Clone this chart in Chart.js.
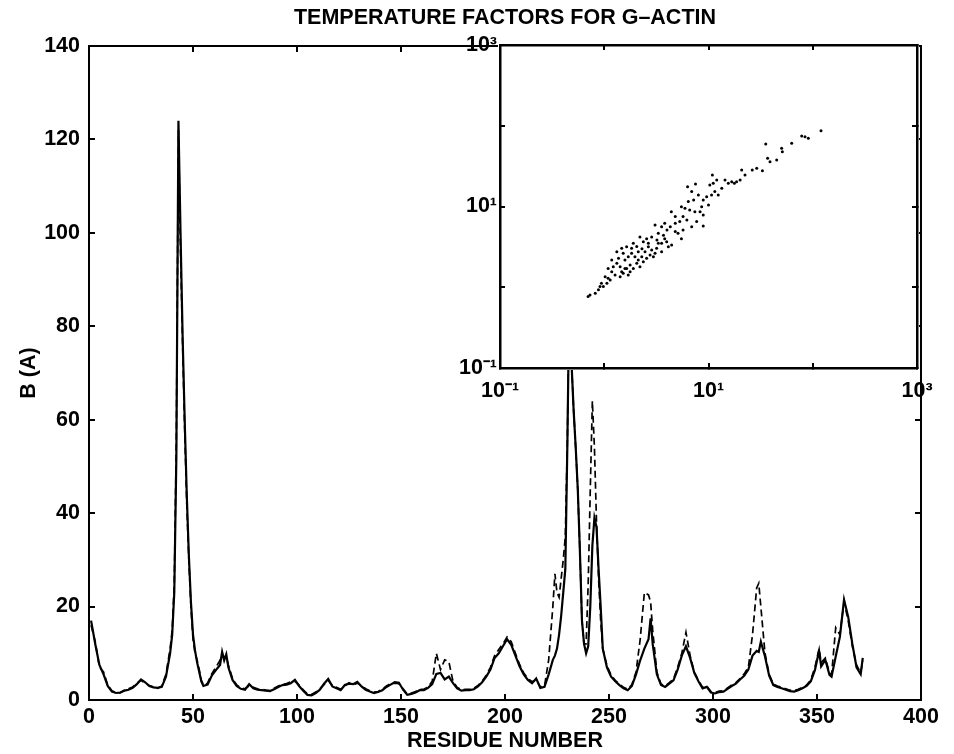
<!DOCTYPE html>
<html>
<head>
<meta charset="utf-8">
<script src="https://cdn.jsdelivr.net/npm/chart.js@4"></script>
<style>
  html, body { margin: 0; padding: 0; background: #fff; }
  #wrap { position: relative; width: 954px; height: 754px; }
  #mainChart { position: absolute; left: 0; top: 0; }
  #insetChart { position: absolute; left: 420px; top: 23px; }
</style>
</head>
<body>
<div id="wrap">
  <canvas id="mainChart" width="954" height="754"></canvas>
  <canvas id="insetChart" width="532" height="407"></canvas>
</div>
<script>
// residue numbers (x) with the two B-factor traces
const residues = [
  1, 3, 5, 7, 9, 11, 13, 15, 17, 19,
  21, 23, 25, 27, 29, 31, 33, 35, 37, 39,
  40, 41, 42, 43, 44, 45, 46, 47, 48, 49,
  50, 51, 52, 53, 54, 55, 57, 59, 61, 63,
  64, 65, 66, 67, 69, 71, 73, 75, 77, 79,
  81, 83, 85, 87, 89, 91, 93, 95, 97, 99,
  101, 103, 105, 107, 109, 111, 113, 115, 117, 119,
  121, 123, 125, 127, 129, 131, 133, 135, 137, 139,
  141, 143, 145, 147, 149, 151, 153, 155, 157, 159,
  161, 163, 165, 167, 169, 171, 173, 175, 177, 179,
  181, 183, 185, 187, 189, 191, 193, 195, 197, 199,
  201, 203, 205, 207, 209, 211, 213, 215, 217, 219,
  221, 223, 224, 225, 226, 227, 228, 229, 230, 231,
  232, 233, 234, 235, 236, 237, 238, 239, 240, 241,
  242, 243, 244, 245, 246, 247, 249, 251, 253, 255,
  257, 259, 261, 263, 265, 267, 269, 270, 271, 273,
  275, 277, 279, 281, 283, 285, 287, 289, 291, 293,
  295, 297, 299, 301, 303, 305, 307, 309, 311, 313,
  315, 317, 319, 321, 322, 323, 325, 327, 329, 331,
  333, 335, 337, 339, 341, 343, 345, 347, 349, 351,
  352, 354, 356, 357, 359, 361, 363, 365, 367, 369,
  371, 372
];
const solidB = [
  17, 12, 7.5, 5.5, 3, 1.8, 1.5, 1.6, 2, 2.2,
  2.6, 3.4, 4.4, 3.8, 3, 2.7, 2.6, 2.8, 5, 10,
  14, 23, 52, 124, 100, 78, 60, 44, 31, 21,
  14, 10.5, 8, 6, 4, 3, 3.3, 5.2, 6.4, 7.5,
  10.3, 8.5, 9.8, 7, 4.3, 3, 2.4, 2.2, 3.4, 2.5,
  2.2, 2.1, 2, 1.9, 2.3, 2.8, 3.2, 3.3, 3.6, 4.3,
  3, 2, 1.1, 1, 1.5, 2.2, 3.5, 4.5, 2.9, 2.5,
  2.1, 3.2, 3.5, 3.4, 3.9, 2.9, 2.2, 1.8, 1.5, 1.7,
  2.1, 2.8, 3.3, 3.8, 3.7, 2.2, 1.1, 1.3, 1.6, 2.1,
  2.1, 2.6, 3.4, 5.6, 5.8, 4.4, 5, 3.6, 2.5, 2,
  2.1, 2.1, 2.3, 2.9, 3.8, 5, 6.5, 9, 10, 11.5,
  13, 11.8, 9.5, 7.2, 5.5, 4.3, 3.6, 4.6, 2.6, 2.8,
  5.5, 8.6, 9.5, 11, 14, 18, 23, 28, 55, 90,
  72, 62, 54, 45, 32, 17, 12, 10, 11.5, 20,
  33, 39, 37, 28, 20, 11, 7, 5, 4, 3.2,
  2.5, 2.1, 3, 5.5, 8.5, 11, 13, 17.5, 12, 5.5,
  3.2, 2.8, 3.5, 4.2, 6.5, 9.5, 11.5, 9, 5.8, 4,
  2.5, 2.8, 1.6, 1.4, 1.7, 1.8, 2.4, 3, 3.5, 4.4,
  5.2, 6.5, 9.5, 10.5, 10.3, 12.5, 9.3, 5.2, 3.2, 2.8,
  2.5, 2.2, 1.9, 1.8, 2.1, 2.5, 3, 4, 6.4, 10.5,
  7.2, 8.6, 5.4, 5, 9.3, 13.5, 21.5, 17.8, 12, 7,
  5.5, 9
];
const dashedB = [
  16, 12.5, 7, 6, 3.2, 2, 1.6, 1.5, 2.1, 2.4,
  2.8, 3.6, 4.2, 3.6, 3.1, 2.8, 2.5, 3, 5.5, 11,
  15, 25, 56, 122, 96, 76, 58, 42, 30, 20,
  13, 10, 8.5, 6.5, 4.2, 3.2, 3.6, 5.6, 7, 8.5,
  9.8, 9.2, 9.2, 7.5, 4.6, 3.2, 2.6, 2.4, 3, 2.7,
  2.4, 2.3, 2.1, 2, 2.5, 3, 3.4, 3.5, 3.9, 4,
  3.2, 2.2, 1.3, 1.2, 1.7, 2.4, 3.3, 4.2, 3.1, 2.7,
  2.3, 3, 3.7, 3.2, 3.6, 3.1, 2.4, 2, 1.7, 1.8,
  2.3, 3, 3.5, 3.6, 3.5, 2.4, 1.3, 1.5, 1.8, 2.3,
  2.3, 2.8, 4, 10, 6.5, 8.6, 8.2, 4, 2.7, 2.2,
  2.3, 2.3, 2.5, 3.1, 4, 5.3, 7, 9.5, 10.8, 12,
  13.5, 12.5, 10, 7.6, 5.8, 4.6, 3.9, 4.3, 2.8, 3,
  8.6, 20, 27, 23, 22, 26, 30, 35, 56, 90,
  72, 62, 54, 45, 32, 17, 12, 12, 25, 45,
  64, 54, 38, 26, 17, 11, 7.4, 5.3, 4.2, 3.4,
  2.7, 2.3, 3.3, 6, 13, 23, 22.5, 21, 15, 6,
  3.4, 3, 3.7, 4.5, 7, 10, 14.5, 9.5, 6, 4.2,
  2.7, 3, 1.8, 1.6, 1.9, 2, 2.6, 3.2, 3.7, 4.6,
  5.6, 7, 14, 24, 25, 20, 10, 5.5, 3.4, 3,
  2.7, 2.4, 2.1, 2, 2.3, 2.7, 3.2, 4.3, 7, 11,
  8, 9, 5.8, 5.4, 15.5, 14, 21, 17, 11.5, 7.5,
  5.8, 8.5
];
const mainXTicks = [0, 50, 100, 150, 200, 250, 300, 350, 400];
const mainYTicks = [0, 20, 40, 60, 80, 100, 120, 140];

// inset log-log scatter
const insetX = [
  120, 84.3, 90.7, 78.3, 62.8, 50.3, 51.1, 35.4, 36.9, 38.9,
  45.1, 32.9, 29.0, 26.3, 22.4, 20.8, 20.1, 18.6, 17.7, 16.7,
  15.5, 14.4, 12.0, 10.9, 11.1, 10.3, 13.4, 11.5, 12.4, 10.7,
  9.6, 8.9, 10.0, 8.6, 8.0, 7.5, 6.3, 6.9, 7.2, 6.4,
  5.95, 5.5, 6.6, 7.4, 8.3, 8.9, 8.9, 7.7, 6.9, 6.2,
  5.7, 5.3, 4.8, 4.4, 4.8, 4.3, 3.8, 4.0, 3.55, 3.07,
  3.7, 3.3, 3.2, 2.85, 2.55, 2.65, 2.37, 2.2, 2.05, 1.9,
  2.3, 2.46, 2.85, 3.18, 3.55, 3.97, 4.43, 1.64, 1.47, 1.52,
  1.7, 1.83, 1.97, 2.12, 2.29, 2.55, 2.75, 2.96, 1.58, 1.37,
  1.32, 1.42, 1.58, 1.77, 1.9, 2.05, 1.22, 1.18, 1.27, 1.42,
  1.52, 1.7, 1.09, 1.02, 1.06, 0.94, 0.91, 0.88, 0.82, 0.73,
  0.70, 0.98, 1.14, 1.64, 2.2, 2.37, 3.55, 4.12, 5.1, 5.7,
  4.8, 5.5, 3.8, 3.3, 3.07, 1.32, 1.83, 1.18, 1.09, 1.47,
  1.77, 2.12, 2.65
];
const insetY = [
  86.9, 73.2, 69.9, 74.7, 60.6, 52.5, 47.8, 59.4, 39.5, 35.9,
  37.6, 27.8, 29.7, 28.3, 24.6, 28.3, 21.3, 20.3, 19.4, 20.3,
  19.4, 21.3, 21.3, 24.6, 19.4, 18.5, 16.8, 15.3, 13.9, 13.9,
  13.2, 12.0, 10.4, 9.95, 13.9, 19.0, 17.6, 15.3, 12.0, 11.5,
  9.5, 9.95, 9.05, 8.6, 8.6, 7.85, 5.73, 6.5, 5.6, 6.8,
  7.5, 6.5, 7.5, 8.6, 6.2, 5.6, 6.2, 5.1, 5.6, 5.9,
  4.4, 4.65, 3.85, 4.2, 4.0, 3.5, 3.67, 4.2, 3.2, 3.5,
  3.0, 2.76, 2.89, 3.03, 3.5, 3.67, 3.34, 3.18, 3.03, 2.63,
  2.39, 2.63, 2.39, 2.18, 2.39, 2.28, 2.51, 2.39, 2.18, 2.28,
  1.98, 1.8, 1.71, 1.89, 1.71, 1.98, 1.8, 1.56, 1.42, 1.35,
  1.49, 1.42, 1.29, 1.35, 1.12, 1.12, 1.02, 0.93, 0.84, 0.80,
  0.77, 1.02, 1.23, 1.71, 1.8, 2.07, 2.76, 3.18, 4.65, 5.1,
  4.9, 4.0, 4.0, 3.5, 2.63, 2.76, 3.03, 2.18, 1.71, 1.56,
  1.56, 2.76, 3.18
];
const insetTicks = [0.1, 1, 10, 100, 1000];
const insetTickLabels = ["10\u207B\u00B9", "", "10\u00B9", "", "10\u00B3"];

const FONT = "'Liberation Sans', Arial, Helvetica, sans-serif";
Chart.defaults.font.family = FONT;
Chart.defaults.font.weight = "bold";
Chart.defaults.color = "#000";

const useTicks = (vals) => (scale) => { scale.ticks = vals.map(v => ({value: v})); };
const inwardGrid = (len, w) => ({drawOnChartArea: false, drawTicks: true, tickLength: -len, color: "#000", lineWidth: w});
const frame = (w) => ({display: true, color: "#000", width: w});
const txt = {size: 21.5, weight: "bold"};

new Chart(document.getElementById("mainChart"), {
  type: "line",
  data: {
    datasets: [
      {label: "solid", data: residues.map((r, i) => ({x: r, y: solidB[i]})), borderColor: "#000", borderWidth: 2.2, pointRadius: 0, tension: 0, fill: false},
      {label: "dashed", data: residues.map((r, i) => ({x: r, y: dashedB[i]})), borderColor: "#000", borderWidth: 1.7, borderDash: [7, 4], pointRadius: 0, tension: 0, fill: false}
    ]
  },
  options: {
    responsive: false, animation: false,
    layout: {padding: 0},
    plugins: {legend: {display: false}, tooltip: {enabled: false}},
    scales: {
      x: {
        type: "linear", position: "bottom", min: 0, max: 400,
        afterBuildTicks: useTicks(mainXTicks),
        ticks: {font: txt, padding: 10, maxRotation: 0, autoSkip: false},
        grid: inwardGrid(6, 2), border: frame(2),
        title: {display: true, text: "RESIDUE NUMBER", font: txt, padding: {top: 0, bottom: 0}},
        afterFit: (s) => { s.height = 54; }
      },
      y: {
        type: "linear", position: "left", min: 0, max: 140,
        afterBuildTicks: useTicks(mainYTicks),
        ticks: {font: txt, padding: 15},
        grid: inwardGrid(6, 2), border: frame(2),
        title: {display: true, text: "B (A)", font: txt, padding: {top: 16, bottom: 0}},
        afterFit: (s) => { s.width = 89; }
      },
      xTop: {
        type: "linear", axis: "x", position: "top", min: 0, max: 400,
        afterBuildTicks: useTicks(mainXTicks),
        ticks: {display: false},
        grid: inwardGrid(6, 2), border: frame(2),
        title: {display: true, text: "TEMPERATURE FACTORS FOR G\u2013ACTIN", font: txt, padding: {top: 5, bottom: 0}},
        afterFit: (s) => { s.height = 46; }
      },
      yRight: {
        type: "linear", axis: "y", position: "right", min: 0, max: 140,
        afterBuildTicks: useTicks(mainYTicks),
        ticks: {display: false},
        grid: inwardGrid(6, 2), border: frame(2),
        afterFit: (s) => { s.width = 33; }
      }
    }
  }
});

const whiteBox = {
  id: "whiteBox",
  beforeDraw(chart) {
    const a = chart.chartArea, ctx = chart.ctx;
    ctx.save();
    ctx.fillStyle = "#fff";
    ctx.fillRect(a.left - 2, a.top - 2, a.right - a.left + 4, a.bottom - a.top + 4);
    ctx.restore();
  }
};

const insetLabel = (v) => insetTickLabels[insetTicks.indexOf(v)] || "";

new Chart(document.getElementById("insetChart"), {
  type: "scatter",
  data: {
    datasets: [{data: insetX.map((x, i) => ({x: x, y: insetY[i]})), backgroundColor: "#000", borderWidth: 0, pointRadius: 1.5}]
  },
  options: {
    responsive: false, animation: false,
    layout: {padding: 0},
    plugins: {legend: {display: false}, tooltip: {enabled: false}},
    scales: {
      x: {
        type: "logarithmic", position: "bottom", min: 0.1, max: 1000,
        afterBuildTicks: useTicks(insetTicks),
        ticks: {font: txt, padding: 15, maxRotation: 0, autoSkip: false, callback: insetLabel},
        grid: inwardGrid(5, 2), border: frame(2.5),
        afterFit: (s) => { s.height = 62; }
      },
      y: {
        type: "logarithmic", position: "left", min: 0.1, max: 1000,
        afterBuildTicks: useTicks(insetTicks),
        ticks: {font: txt, padding: 8, autoSkip: false, callback: insetLabel},
        grid: inwardGrid(5, 2), border: frame(2.5),
        afterFit: (s) => { s.width = 80; }
      },
      xTop: {
        type: "logarithmic", axis: "x", position: "top", min: 0.1, max: 1000,
        afterBuildTicks: useTicks(insetTicks),
        ticks: {display: false},
        grid: inwardGrid(5, 2), border: frame(2.5),
        afterFit: (s) => { s.height = 22; }
      },
      yRight: {
        type: "logarithmic", axis: "y", position: "right", min: 0.1, max: 1000,
        afterBuildTicks: useTicks(insetTicks),
        ticks: {display: false},
        grid: inwardGrid(5, 2), border: frame(2.5),
        afterFit: (s) => { s.width = 35; }
      }
    }
  },
  plugins: [whiteBox]
});
</script>
</body>
</html>
